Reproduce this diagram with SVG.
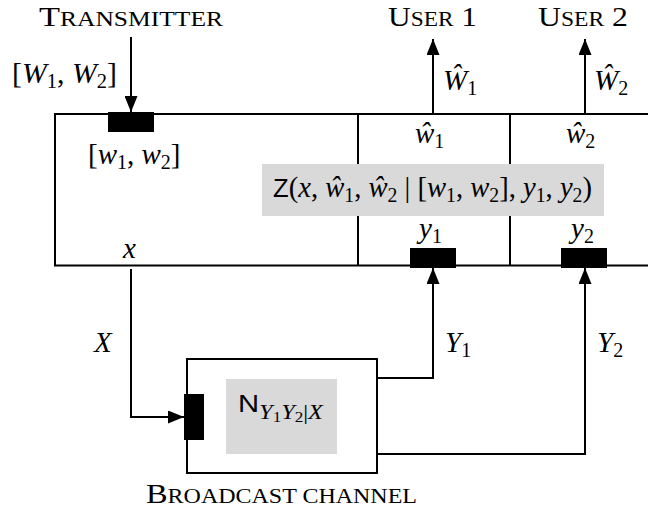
<svg xmlns="http://www.w3.org/2000/svg" width="648" height="510" viewBox="0 0 648 510">
<style>
.ln{fill:none;stroke:#000;stroke-width:2}
.blk{fill:#000}
.gray{fill:#d9d9d9}
.m{font-family:"Liberation Serif",serif;font-size:29px;fill:#000}
.i{font-style:italic}
.s{font-size:20px}
.ss{font-size:14px}
.sf{font-family:"Liberation Sans",sans-serif}
.sc{font-family:"Liberation Serif",serif;font-size:27px;fill:#000}
.scs{font-size:20px}
</style>
<defs>
<marker id="ah" viewBox="0 0 16 13" refX="16" refY="6.5" markerWidth="16" markerHeight="13" markerUnits="userSpaceOnUse" orient="auto">
<path d="M0,0 L16,6.5 L0,13 z" fill="#000"/>
</marker>
</defs>
<rect width="648" height="510" fill="#fff"/>

<g id="system">
<rect class="ln" x="55" y="114" width="620" height="151.5"/>
<line class="ln" x1="358" y1="114" x2="358" y2="265.5"/>
<line class="ln" x1="510" y1="114" x2="510" y2="265.5"/>
<rect class="gray" x="262" y="164" width="342" height="52"/>
<text class="m" x="273" y="197" textLength="319" lengthAdjust="spacingAndGlyphs"><tspan class="sf" font-size="26">Z</tspan>(<tspan class="i">x</tspan>, <tspan class="i">ŵ</tspan><tspan class="s" dy="5">1</tspan><tspan dy="-5">, </tspan><tspan class="i">ŵ</tspan><tspan class="s" dy="5">2</tspan><tspan dy="-5"> | [</tspan><tspan class="i">w</tspan><tspan class="s" dy="5">1</tspan><tspan dy="-5">, </tspan><tspan class="i">w</tspan><tspan class="s" dy="5">2</tspan><tspan dy="-5">], </tspan><tspan class="i">y</tspan><tspan class="s" dy="5">1</tspan><tspan dy="-5">, </tspan><tspan class="i">y</tspan><tspan class="s" dy="5">2</tspan><tspan dy="-5">)</tspan></text>
</g>

<g id="tx-port">
<rect class="blk" x="108" y="112" width="46" height="20"/>
<text class="m" x="88" y="164" font-size="27">[<tspan class="i">w</tspan><tspan class="s" dy="5">1</tspan><tspan dy="-5">, </tspan><tspan class="i">w</tspan><tspan class="s" dy="5">2</tspan><tspan dy="-5">]</tspan></text>
</g>

<g id="x-port">
<text class="m i" x="123" y="258">x</text>
</g>

<g id="user1-port">
<text class="m" x="415" y="143"><tspan class="i">ŵ</tspan><tspan class="s" dy="5">1</tspan></text>
<rect class="blk" x="410" y="248" width="46" height="20"/>
<text class="m" x="419" y="238"><tspan class="i">y</tspan><tspan class="s" dy="5">1</tspan></text>
</g>

<g id="user2-port">
<text class="m" x="566" y="143"><tspan class="i">ŵ</tspan><tspan class="s" dy="5">2</tspan></text>
<rect class="blk" x="561" y="248" width="46" height="20"/>
<text class="m" x="571" y="238"><tspan class="i">y</tspan><tspan class="s" dy="5">2</tspan></text>
</g>

<g id="transmitter">
<text class="sc" x="39" y="26" textLength="184" lengthAdjust="spacingAndGlyphs">T<tspan class="scs">RANSMITTER</tspan></text>
</g>
<g id="user1">
<text class="sc" x="388" y="26" textLength="89" lengthAdjust="spacingAndGlyphs">U<tspan class="scs">SER</tspan> 1</text>
</g>
<g id="user2">
<text class="sc" x="538" y="26" textLength="90" lengthAdjust="spacingAndGlyphs">U<tspan class="scs">SER</tspan> 2</text>
</g>

<g id="channel">
<rect class="ln" x="187" y="359" width="190" height="114"/>
<rect class="gray" x="226" y="379" width="111" height="75"/>
<rect class="blk" x="184" y="394" width="20" height="46"/>
<text class="m" x="238" y="412" textLength="85" lengthAdjust="spacingAndGlyphs"><tspan class="sf" font-size="24">N</tspan><tspan class="i" font-size="20" dy="7">Y</tspan><tspan class="ss" dy="3">1</tspan><tspan class="i" font-size="20" dy="-3">Y</tspan><tspan class="ss" dy="3">2</tspan><tspan font-size="20" dy="-3">|</tspan><tspan class="i" font-size="20">X</tspan></text>
<text class="sc" x="146" y="503" textLength="271" lengthAdjust="spacingAndGlyphs">B<tspan class="scs">ROADCAST CHANNEL</tspan></text>
</g>

<g id="connectors">
<line class="ln" x1="131" y1="37" x2="131" y2="112" marker-end="url(#ah)"/>
<line class="ln" x1="433" y1="114" x2="433" y2="39" marker-end="url(#ah)"/>
<line class="ln" x1="585" y1="114" x2="585" y2="39" marker-end="url(#ah)"/>
<polyline class="ln" points="131,269 131,417 184,417" marker-end="url(#ah)"/>
<polyline class="ln" points="377,378 433,378 433,268" marker-end="url(#ah)"/>
<polyline class="ln" points="377,454 585,454 585,268" marker-end="url(#ah)"/>
<text class="m" x="12" y="83" textLength="105" lengthAdjust="spacingAndGlyphs">[<tspan class="i">W</tspan><tspan class="s" dy="5">1</tspan><tspan dy="-5">, </tspan><tspan class="i">W</tspan><tspan class="s" dy="5">2</tspan><tspan dy="-5">]</tspan></text>
<text class="m" x="443" y="90"><tspan class="i">Ŵ</tspan><tspan class="s" dy="5">1</tspan></text>
<text class="m" x="594" y="90"><tspan class="i">Ŵ</tspan><tspan class="s" dy="5">2</tspan></text>
<text class="m i" x="94" y="352">X</text>
<text class="m" x="445" y="352"><tspan class="i">Y</tspan><tspan class="s" dy="5">1</tspan></text>
<text class="m" x="597" y="352"><tspan class="i">Y</tspan><tspan class="s" dy="5">2</tspan></text>
</g>
</svg>
